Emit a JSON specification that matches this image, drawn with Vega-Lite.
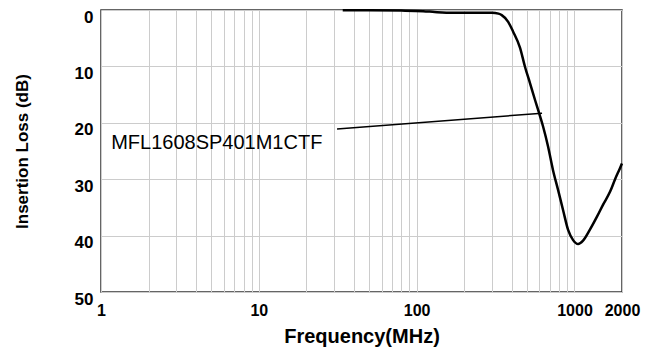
{
  "$schema": "https://vega.github.io/schema/vega-lite/v6.json",
  "width": 521,
  "height": 282,
  "autosize": {"type": "none"},
  "padding": {"left": 101, "top": 10, "right": 23, "bottom": 57},
  "background": "white",
  "config": {
    "view": {"stroke": "#333333", "strokeWidth": 1.5},
    "font": "Liberation Sans"
  },
  "datasets": {
    "curve": [
      {"freq": 34, "loss": 0.05},
      {"freq": 50, "loss": 0.05},
      {"freq": 80, "loss": 0.1},
      {"freq": 110, "loss": 0.2},
      {"freq": 130, "loss": 0.35},
      {"freq": 170, "loss": 0.5},
      {"freq": 250, "loss": 0.48},
      {"freq": 300, "loss": 0.48},
      {"freq": 330, "loss": 0.65},
      {"freq": 346, "loss": 0.9},
      {"freq": 380, "loss": 2.1},
      {"freq": 408, "loss": 3.8},
      {"freq": 452, "loss": 6.7},
      {"freq": 486, "loss": 10.1},
      {"freq": 523, "loss": 13},
      {"freq": 563, "loss": 16},
      {"freq": 597, "loss": 18.3},
      {"freq": 633, "loss": 20.7},
      {"freq": 680, "loss": 24.2},
      {"freq": 731, "loss": 28.4},
      {"freq": 787, "loss": 31.9},
      {"freq": 847, "loss": 35.5},
      {"freq": 911, "loss": 39},
      {"freq": 980, "loss": 40.8},
      {"freq": 1054, "loss": 41.5},
      {"freq": 1133, "loss": 40.9},
      {"freq": 1255, "loss": 38.9},
      {"freq": 1391, "loss": 36.6},
      {"freq": 1518, "loss": 34.5},
      {"freq": 1682, "loss": 32.2},
      {"freq": 1808, "loss": 30.0},
      {"freq": 1945, "loss": 28.0},
      {"freq": 2000, "loss": 27.2}
    ],
    "leader": [
      {"f1": 31.3, "d1": 21.1, "f2": 623, "d2": 18.3}
    ],
    "label": [
      {"freq": 1.16, "loss": 23.6, "text": "MFL1608SP401M1CTF"}
    ]
  },
  "layer": [
    {
      "data": {"name": "curve"},
      "mark": {"type": "line", "color": "black", "strokeWidth": 2.5, "interpolate": "monotone"},
      "encoding": {
        "x": {
          "field": "freq",
          "type": "quantitative",
          "scale": {"type": "log", "domain": [1, 2000], "nice": false},
          "axis": {
            "title": "Frequency(MHz)",
            "titleFontSize": 20,
            "titleFontWeight": "bold",
            "titleColor": "black",
            "titlePadding": 8,
            "labelFontSize": 16,
            "labelFontWeight": "bold",
            "labelColor": "black",
            "labelPadding": 10,
            "labelFlush": false,
            "labelOverlap": false,
            "values": [1,2,3,4,5,6,7,8,9,10,20,30,40,50,60,70,80,90,100,200,300,400,500,600,700,800,900,1000,2000],
            "format": "d",
            "labelExpr": "indexof([1,10,100,1000,2000], datum.value) >= 0 ? datum.label : ''",
            "ticks": false,
            "domain": false,
            "grid": true,
            "gridColor": "#cccccc",
            "gridWidth": 1
          }
        },
        "y": {
          "field": "loss",
          "type": "quantitative",
          "scale": {"domain": [0, 50], "reverse": true, "nice": false},
          "axis": {
            "title": "Insertion Loss (dB)",
            "titleFontSize": 17,
            "titleFontWeight": "bold",
            "titleColor": "black",
            "titlePadding": 43,
            "labelFontSize": 17,
            "labelFontWeight": "bold",
            "labelColor": "black",
            "labelPadding": 8,
            "labelOffset": 7,
            "labelOverlap": false,
            "values": [0, 10, 20, 30, 40, 50],
            "ticks": false,
            "domain": false,
            "grid": true,
            "gridColor": "#cccccc",
            "gridWidth": 1
          }
        }
      }
    },
    {
      "data": {"name": "leader"},
      "mark": {"type": "rule", "color": "black", "strokeWidth": 1.5},
      "encoding": {
        "x": {"field": "f1", "type": "quantitative"},
        "x2": {"field": "f2"},
        "y": {"field": "d1", "type": "quantitative"},
        "y2": {"field": "d2"}
      }
    },
    {
      "data": {"name": "label"},
      "mark": {"type": "text", "align": "left", "baseline": "middle", "fontSize": 20, "color": "black"},
      "encoding": {
        "x": {"field": "freq", "type": "quantitative"},
        "y": {"field": "loss", "type": "quantitative"},
        "text": {"field": "text"}
      }
    }
  ]
}
